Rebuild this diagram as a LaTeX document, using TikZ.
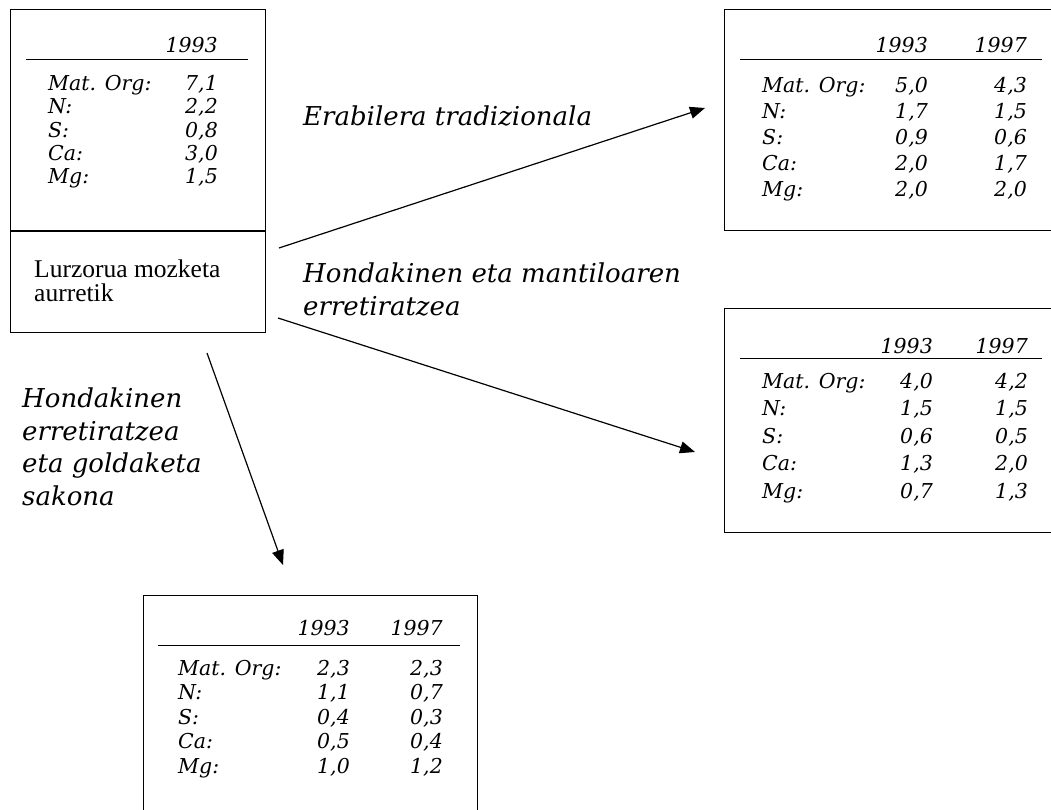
\documentclass[tikz,border=0pt]{standalone}
\usepackage{fontspec}
\setmainfont{Liberation Serif}
\newfontfamily\geofont{DejaVu Serif}
\usetikzlibrary{arrows.meta}
\begin{document}
\begin{tikzpicture}[x=1pt,y=-1pt]
	\tikzset{box/.style = {draw, line width=1.1pt, inner sep=0pt, anchor=north west}}
	\tikzset{cell/.style = {inner sep=0pt, font=\geofont\itshape\fontsize{20.5}{#1}\selectfont}, cell/.default=23.3}
	\tikzset{head/.style = {inner sep=0pt, anchor=base east, font=\geofont\itshape\fontsize{20.5}{23}\selectfont}}
	\tikzset{lbl/.style = {inner sep=0pt, anchor=north west, align=left, font=\geofont\itshape\fontsize{26}{32.5}\selectfont}}
	\tikzset{edge/.style = {-{Triangle[length=15pt,width=12pt]}, line width=1.2pt}}
	\clip (0,0) rectangle (1051,810);
	% soil before cutting
	\node[box, minimum width=255, minimum height=323] (start) at (10,9) {};
	\draw[line width=1.1pt] (10,231) -- (265,231);
	\node[head] (starty) at (218,53) {1993};
	\draw[line width=0.9pt] (26,59) -- (248,59);
	\node[cell, anchor=north west, align=left] (startl) at (48,75) {Mat. Org:\\N:\\S:\\Ca:\\Mg:};
	\node[cell, anchor=north east, align=right] (startv) at (218,75) {7,1\\2,2\\0,8\\3,0\\1,5};
	\node[inner sep=0pt, anchor=north west, align=left, font=\fontsize{25.5}{24}\selectfont] (startt) at (34,260) {Lurzorua mozketa\\aurretik};
	% traditional use
	\node[box, minimum width=336, minimum height=221] (trad) at (724,9) {};
	\node[head] (trada) at (928,53) {1993};
	\node[head] (tradb) at (1027,53) {1997};
	\draw[line width=0.9pt] (740,59) -- (1042,59);
	\node[cell=26, anchor=north west, align=left] (tradl) at (762,77) {Mat. Org:\\N:\\S:\\Ca:\\Mg:};
	\node[cell=26, anchor=north east, align=right] (tradv) at (928,77) {5,0\\1,7\\0,9\\2,0\\2,0};
	\node[cell=26, anchor=north east, align=right] (tradw) at (1027,77) {4,3\\1,5\\0,6\\1,7\\2,0};
	% residues and litter removed
	\node[box, minimum width=336, minimum height=224] (mant) at (724,308) {};
	\node[head] (manta) at (933,353) {1993};
	\node[head] (mantb) at (1028,353) {1997};
	\draw[line width=0.9pt] (740,358) -- (1042,358);
	\node[cell=27.5, anchor=north west, align=left] (mantl) at (762,373) {Mat. Org:\\N:\\S:\\Ca:\\Mg:};
	\node[cell=27.5, anchor=north east, align=right] (mantv) at (933,373) {4,0\\1,5\\0,6\\1,3\\0,7};
	\node[cell=27.5, anchor=north east, align=right] (mantw) at (1028,373) {4,2\\1,5\\0,5\\2,0\\1,3};
	% residues removed and deep ploughing
	\node[box, minimum width=334, minimum height=235] (gold) at (143,595) {};
	\node[head] (golda) at (350,635) {1993};
	\node[head] (goldb) at (443,635) {1997};
	\draw[line width=0.9pt] (158,645) -- (460,645);
	\node[cell=24.5, anchor=north west, align=left] (goldl) at (178,660) {Mat. Org:\\N:\\S:\\Ca:\\Mg:};
	\node[cell=24.5, anchor=north east, align=right] (goldv) at (350,660) {2,3\\1,1\\0,4\\0,5\\1,0};
	\node[cell=24.5, anchor=north east, align=right] (goldw) at (443,660) {2,3\\0,7\\0,3\\0,4\\1,2};
	% arrows
	\coordinate (a1) at (279,248);
	\coordinate (b1) at (705,108);
	\coordinate (a2) at (278,318);
	\coordinate (b2) at (695,452);
	\coordinate (a3) at (207,353);
	\coordinate (b3) at (283,565);
	\draw[edge] (a1) -- (b1);
	\draw[edge] (a2) -- (b2);
	\draw[edge] (a3) -- (b3);
	\node[lbl] (tradt) at (303,106) {Erabilera tradizionala};
	\node[lbl] (mantt) at (303,263) {Hondakinen eta mantiloaren\\erretiratzea};
	\node[lbl] (goldt) at (22,388) {Hondakinen\\erretiratzea\\eta goldaketa\\sakona};
\end{tikzpicture}
\end{document}
